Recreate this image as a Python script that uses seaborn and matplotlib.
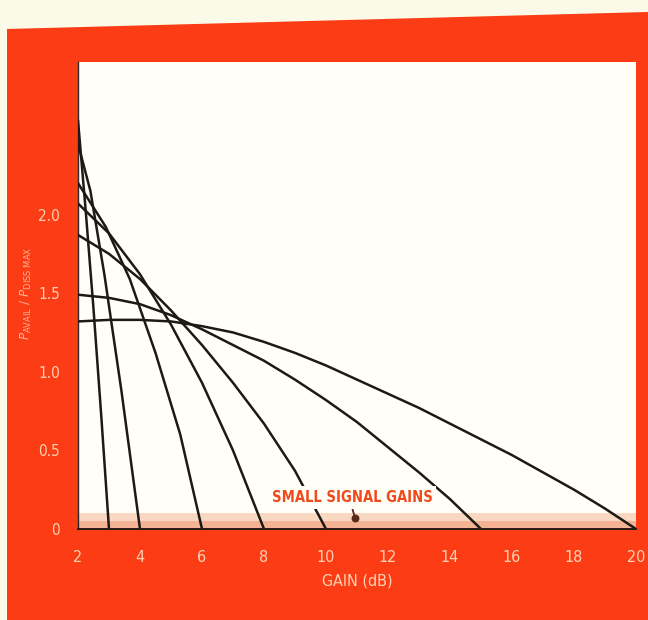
import matplotlib
matplotlib.use("Agg")
import matplotlib.pyplot as plt
from matplotlib.patches import Polygon
import numpy as np
import pandas as pd
import seaborn as sns

# ---- data -------------------------------------------------------------
small_signal_gains = [3, 4, 6, 8, 10, 15, 20]

gain_3 = [2.0, 2.25, 2.5, 2.75, 3.0]
ratio_3 = [2.60, 2.02, 1.40, 0.72, 0.0]

gain_4 = [2.0, 2.4, 2.85, 3.4, 4.0]
ratio_4 = [2.45, 2.15, 1.62, 0.88, 0.0]

gain_6 = [2.0, 2.9, 3.67, 4.5, 5.3, 6.0]
ratio_6 = [2.20, 1.92, 1.59, 1.12, 0.60, 0.0]

gain_8 = [2.0, 3.0, 4.0, 5.0, 6.0, 7.0, 8.0]
ratio_8 = [2.07, 1.88, 1.62, 1.30, 0.93, 0.50, 0.0]

gain_10 = [2.0, 3.0, 4.0, 5.0, 6.0, 7.0, 8.0, 9.0, 10.0]
ratio_10 = [1.87, 1.75, 1.59, 1.39, 1.17, 0.93, 0.67, 0.37, 0.0]

gain_15 = [2.0, 3.0, 4.0, 5.0, 6.0, 7.0, 8.0, 9.0, 10.0, 11.0, 12.0, 13.0, 14.0, 15.0]
ratio_15 = [1.49, 1.47, 1.43, 1.36, 1.27, 1.17, 1.07, 0.95, 0.82, 0.68, 0.52, 0.36, 0.19, 0.0]

gain_20 = [2.0, 3.0, 4.0, 5.0, 6.0, 7.0, 8.0, 9.0, 10.0, 11.0, 12.0, 13.0, 14.0,
           15.0, 16.0, 17.0, 18.0, 19.0, 20.0]
ratio_20 = [1.32, 1.33, 1.33, 1.32, 1.29, 1.25, 1.19, 1.12, 1.04, 0.95, 0.86, 0.77,
            0.67, 0.57, 0.47, 0.36, 0.25, 0.13, 0.0]

x_ticks = [2, 4, 6, 8, 10, 12, 14, 16, 18, 20]
y_ticks = [0, 0.5, 1.0, 1.5, 2.0, 2.5]
y_tick_labels = ["0", "0.5", "1.0", "1.5", "2.0", ""]

annot_text = "SMALL SIGNAL GAINS"
annot_xy = (10.95, 0.07)
annot_text_xy = (10.85, 0.20)

# ---- build long table -------------------------------------------------
curves = {3: (gain_3, ratio_3), 4: (gain_4, ratio_4), 6: (gain_6, ratio_6),
          8: (gain_8, ratio_8), 10: (gain_10, ratio_10), 15: (gain_15, ratio_15),
          20: (gain_20, ratio_20)}
rows = []
for g0 in small_signal_gains:
    gx, gy = curves[g0]
    for a, b in zip(gx, gy):
        rows.append({"gain": a, "ratio": b, "g0": str(g0)})
df = pd.DataFrame(rows)

# ---- figure -----------------------------------------------------------
sns.set_style("white")
plt.rcParams["font.family"] = ["DejaVu Sans"]
plt.rcParams["font.stretch"] = "condensed"
plt.rcParams["mathtext.fontset"] = "dejavusans"

W, H = 648, 620
fig = plt.figure(figsize=(W / 100, H / 100), dpi=100, facecolor="#fbf9e8")

orange = "#fb3c14"
frame = Polygon([(7 / W, 0), (7 / W, 1 - 29 / H), (1, 1 - 12 / H), (1, 0)],
                closed=True, transform=fig.transFigure, facecolor=orange,
                edgecolor="none", zorder=-10)
fig.patches.append(frame)

ax_l, ax_r, ax_b, ax_t = 78, 636, 529, 62
ax = fig.add_axes([ax_l / W, 1 - ax_b / H, (ax_r - ax_l) / W, (ax_b - ax_t) / H])
ax.set_zorder(2)
ax.set_facecolor("#fffff7")

ax.axhspan(0.0, 0.05, color="#f4b395", lw=0, zorder=1)
ax.axhspan(0.05, 0.10, color="#f9d8c2", lw=0, zorder=1)

palette = {str(g): "#1c1a14" for g in small_signal_gains}
sns.lineplot(data=df, x="gain", y="ratio", hue="g0", palette=palette,
             estimator=None, sort=True, legend=False, linewidth=1.8, ax=ax,
             zorder=3)

ax.set_xlim(2, 20)
ax.set_ylim(0, 2.97)

ax.set_xticks(x_ticks)
ax.set_xticklabels([str(t) for t in x_ticks])
ax.set_yticks(y_ticks)
ax.set_yticklabels(y_tick_labels)

label_col = "#ffd3b2"
ax.tick_params(axis="x", direction="out", length=5, width=1.2, color="#3a1a10",
               labelcolor=label_col, labelsize=11.5, pad=10)
ax.tick_params(axis="y", direction="in", length=8, width=1, color="#8a8a80",
               labelcolor=label_col, labelsize=11, pad=13)

for side in ["top", "right"]:
    ax.spines[side].set_visible(False)
ax.spines["left"].set_color("#2a2a24")
ax.spines["left"].set_linewidth(1.0)
ax.spines["bottom"].set_color("#2a1a14")
ax.spines["bottom"].set_linewidth(1.4)

ax.set_xlabel("GAIN (dB)", color=label_col, fontsize=11.5, labelpad=6)
ax.set_ylabel(r"$P_{\mathrm{AVAIL}}\ /\ P_{\mathrm{DISS\ MAX}}$", color="#fbb596",
              fontsize=9.5)
ax.yaxis.set_label_coords(-0.078, 0.505)

ax.annotate(annot_text, xy=annot_xy, xytext=annot_text_xy,
            ha="center", va="center", fontsize=10.5, fontweight="bold",
            color="#f04a1c",
            bbox=dict(boxstyle="square,pad=0.25", facecolor="#fffff7",
                      edgecolor="none"),
            arrowprops=dict(arrowstyle="-", color="#5a2a1a", lw=1.3,
                            shrinkA=0, shrinkB=0,
                            connectionstyle="arc3,rad=0.15"),
            zorder=5)
ax.scatter([annot_xy[0]], [annot_xy[1]], s=22, color="#5a2a1a", zorder=6)

fig.savefig("out.png", dpi=100, facecolor=fig.get_facecolor())
